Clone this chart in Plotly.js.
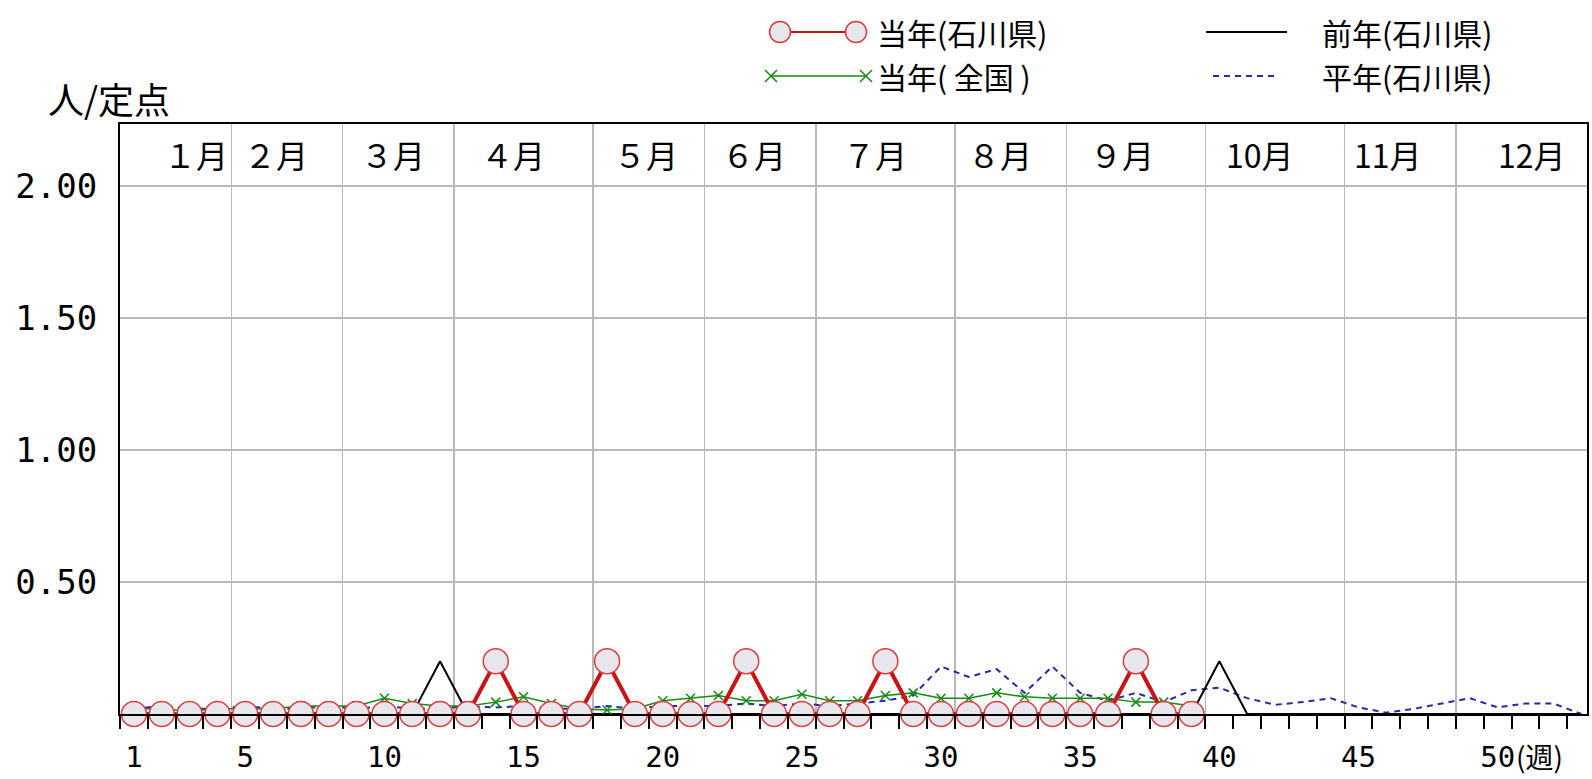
<!DOCTYPE html>
<html>
<head>
<meta charset="utf-8">
<script src="https://cdn.plot.ly/plotly-3.0.1.min.js"></script>
<style>html,body{margin:0;padding:0;background:#ffffff;}</style>
</head>
<body>
<div id="chart" style="width:1592px;height:779px;"></div>
<script>
// ---------------- data ----------------
const weeks = [1,2,3,4,5,6,7,8,9,10,11,12,13,14,15,16,17,18,19,20,21,22,23,24,25,26,27,28,29,30,31,32,33,34,35,36,37,38,39,40,41,42,43,44,45,46,47,48,49,50,51,52,53];

// 当年(石川県) weeks 1-39
const curIshikawa = [0,0,0,0,0,0,0,0,0,0, 0,0,0,0.2,0,0,0,0.2,0,0, 0,0,0.2,0,0,0,0,0.2,0,0, 0,0,0,0,0,0,0.2,0,0];
// 当年(全国) weeks 1-39
const curNational = [0.02,0.02,0.01,0.02,0.02,0.02,0.03,0.03,0.03,0.06, 0.04,0.03,0.03,0.045,0.065,0.04,0.02,0.015,0.02,0.05, 0.06,0.07,0.05,0.05,0.075,0.05,0.05,0.07,0.08,0.06, 0.06,0.08,0.065,0.06,0.06,0.06,0.045,0.045,0.03];
// 前年(石川県) weeks 1-53
const prevIshikawa = [0,0,0,0,0,0,0,0,0,0, 0,0.2,0,0,0,0,0,0,0,0, 0,0,0,0,0,0,0,0,0,0, 0,0,0,0,0,0,0,0,0,0.2, 0,0,0,0,0,0,0,0,0,0, 0,0,0];
// 平年(石川県) weeks 1-53
const avgIshikawa = [0.02,0.03,0.02,0.02,0.03,0.02,0.02,0.03,0.02,0.03, 0.02,0.02,0.03,0.025,0.03,0.02,0.02,0.03,0.02,0.03, 0.03,0.03,0.04,0.03,0.04,0.03,0.04,0.05,0.07,0.18, 0.14,0.17,0.08,0.18,0.08,0.05,0.08,0.045,0.09,0.10, 0.06,0.035,0.045,0.06,0.025,0.005,0.02,0.04,0.06,0.025, 0.04,0.04,0.0];

const weekTickVals = [1,5,10,15,20,25,30,35,40,45,50];
const weekTickText = ['1','5','10','15','20','25','30','35','40','45','50'];
const weekUnit = '(週)';
const yTickVals = [0.5,1.0,1.5,2.0];
const yTickText = ['0.50','1.00','1.50','2.00'];
const yTitle = '人/定点';
const monthLabels = ['１月','２月','３月','４月','５月','６月','７月','８月','９月','10月','11月','12月'];
const monthEndWeeks = [4,8,12,17,21,25,30,34,39,44,48];   // last week of each month (boundary)
const seriesNames = ['当年(石川県)','当年( 全国 )','前年(石川県)','平年(石川県)'];

// ---------------- layout constants ----------------
const W = 1592, H = 779;
const mL = 120, mR = 5, mT = 0, mB = 65;
const plotH = H - mT - mB;                 // 714
const yTopPx = 124;                        // top of chart box
const yDomTop = (plotH - yTopPx) / plotH;
const xRange = [0.5, 53.21];
const yRange = [0, 2.235];
const monthLabelX = [3.23,6.11,10.31,14.62,19.40,23.28,27.63,32.12,36.5,41.46,46.06,51.24];
const monthLabelYpx = 154;
const legRow1 = 32, legRow2 = 76;

const weekBoundaries = [];
for (let i = 0; i <= 52; i++) weekBoundaries.push(i + 0.5);
const monthGrid = monthEndWeeks.map(w => w + 0.5);

const cjk = '"Noto Sans CJK JP", "Noto Sans", sans-serif';
const num = '"DejaVu Sans Mono", "Liberation Mono", monospace';

const redLine = 'rgb(200,20,20)';
const circleFill = 'rgb(230,230,236)';
const circleEdge = 'rgb(220,60,60)';
const green = 'rgb(20,140,20)';
const blue = 'rgb(40,40,170)';

const legYdom = 0.14;          // legend strip height (fraction)
const legHpx = plotH * legYdom;

const traces = [
  // 平年 (bottom)
  {x: weeks.slice(0, avgIshikawa.length), y: avgIshikawa, xaxis: 'x', yaxis: 'y', type: 'scatter', mode: 'lines',
   line: {color: blue, width: 2, dash: '6px,5px'}, cliponaxis: false, hoverinfo: 'skip'},
  // 前年
  {x: weeks.slice(0, prevIshikawa.length), y: prevIshikawa, xaxis: 'x2', yaxis: 'y', type: 'scatter', mode: 'lines',
   line: {color: '#000000', width: 2}, cliponaxis: false, hoverinfo: 'skip'},
  // 当年 全国
  {x: weeks.slice(0, curNational.length), y: curNational, xaxis: 'x3', yaxis: 'y', type: 'scatter', mode: 'lines+markers',
   line: {color: green, width: 1.5}, marker: {symbol: 'x-thin-open', size: 9, color: green, line: {color: green, width: 1.5}},
   cliponaxis: false, hoverinfo: 'skip'},
  // 当年 石川県 (top)
  {x: weeks.slice(0, curIshikawa.length), y: curIshikawa, xaxis: 'x3', yaxis: 'y', type: 'scatter', mode: 'lines+markers',
   line: {color: redLine, width: 4}, marker: {symbol: 'circle', size: 25, color: circleFill, line: {color: circleEdge, width: 1.5}},
   cliponaxis: false, hoverinfo: 'skip'},
  // legend samples (x4 / y2 pixel-like axes)
  {x: [780, 856], y: [legRow1, legRow1], xaxis: 'x4', yaxis: 'y2', type: 'scatter', mode: 'lines+markers',
   line: {color: redLine, width: 2}, marker: {symbol: 'circle', size: 21, color: circleFill, line: {color: circleEdge, width: 1.5}},
   cliponaxis: false, hoverinfo: 'skip'},
  {x: [771, 866], y: [legRow2, legRow2], xaxis: 'x4', yaxis: 'y2', type: 'scatter', mode: 'lines+markers',
   line: {color: green, width: 1.5}, marker: {symbol: 'x-thin-open', size: 12, color: green, line: {color: green, width: 1.5}},
   cliponaxis: false, hoverinfo: 'skip'},
  {x: [1206, 1287], y: [legRow1, legRow1], xaxis: 'x4', yaxis: 'y2', type: 'scatter', mode: 'lines',
   line: {color: '#000000', width: 2}, cliponaxis: false, hoverinfo: 'skip'},
  {x: [1213, 1279], y: [legRow2, legRow2], xaxis: 'x4', yaxis: 'y2', type: 'scatter', mode: 'lines',
   line: {color: blue, width: 2, dash: '6px,5px'}, cliponaxis: false, hoverinfo: 'skip'}
];

const annotations = [];
monthLabels.forEach((t, i) => {
  annotations.push({text: t, x: monthLabelX[i], xref: 'x', y: (plotH - monthLabelYpx) / plotH, yref: 'paper',
    showarrow: false, xanchor: 'center', yanchor: 'middle', font: {family: cjk, size: 32, color: '#000'}});
});
annotations.push({text: yTitle, x: (46 - mL) / (W - mL - mR), xref: 'paper', y: (plotH - 98) / plotH, yref: 'paper',
  showarrow: false, xanchor: 'left', yanchor: 'middle', font: {family: cjk, size: 36, color: '#000'}});
annotations.push({text: weekUnit, x: 50, xref: 'x', xshift: 16, y: -(756 - plotH) / plotH, yref: 'paper',
  showarrow: false, xanchor: 'left', yanchor: 'middle', font: {family: cjk, size: 28, color: '#000'}});
const legendText = [[875, legRow1, seriesNames[0]], [875, legRow2, seriesNames[1]], [1320, legRow1, seriesNames[2]], [1320, legRow2, seriesNames[3]]];
legendText.forEach(([x, y, t]) => {
  annotations.push({text: t, x: x, xref: 'x4', y: y, yref: 'y2', showarrow: false, xanchor: 'left', yanchor: 'middle',
    font: {family: cjk, size: 30, color: '#000'}});
});

const layout = {
  width: W, height: H,
  margin: {l: mL, r: mR, t: mT, b: mB, pad: 0},
  paper_bgcolor: '#ffffff', plot_bgcolor: '#ffffff',
  showlegend: false,
  font: {family: cjk, color: '#000'},
  xaxis: {
    range: xRange, anchor: 'y', domain: [0, 1],
    tickmode: 'array', tickvals: weekTickVals, ticktext: weekTickText,
    ticks: '', showgrid: false, zeroline: false,
    showline: true, linecolor: '#000', linewidth: 2, mirror: true,
    tickfont: {family: num, size: 29, color: '#000'}, ticklabelstandoff: 16
  },
  xaxis2: {
    range: xRange, overlaying: 'x', anchor: 'y',
    tickmode: 'array', tickvals: weekBoundaries, ticks: 'outside', ticklen: 14, tickwidth: 2, tickcolor: '#000',
    showticklabels: false, showgrid: false, zeroline: false, showline: false
  },
  xaxis3: {
    range: xRange, overlaying: 'x', anchor: 'y',
    tickmode: 'array', tickvals: monthGrid, ticks: '',
    showticklabels: false, showgrid: true, gridcolor: 'rgb(185,185,185)', gridwidth: 1.5, zeroline: false, showline: false
  },
  yaxis: {
    range: yRange, domain: [0, yDomTop], anchor: 'x',
    tickmode: 'array', tickvals: yTickVals, ticktext: yTickText,
    ticks: '', showgrid: true, gridcolor: 'rgb(185,185,185)', gridwidth: 1.5, zeroline: false,
    showline: true, linecolor: '#000', linewidth: 2, mirror: true,
    tickfont: {family: num, size: 34, color: '#000'}, ticklabelstandoff: 14
  },
  xaxis4: {
    range: [mL, W - mR], domain: [0, 1], anchor: 'y2', visible: false, fixedrange: true
  },
  yaxis2: {
    range: [legHpx, 0], domain: [1 - legYdom, 1], anchor: 'x4', visible: false, fixedrange: true
  },
  annotations: annotations
};

Plotly.newPlot('chart', traces, layout, {staticPlot: true, displayModeBar: false});
</script>
</body>
</html>
